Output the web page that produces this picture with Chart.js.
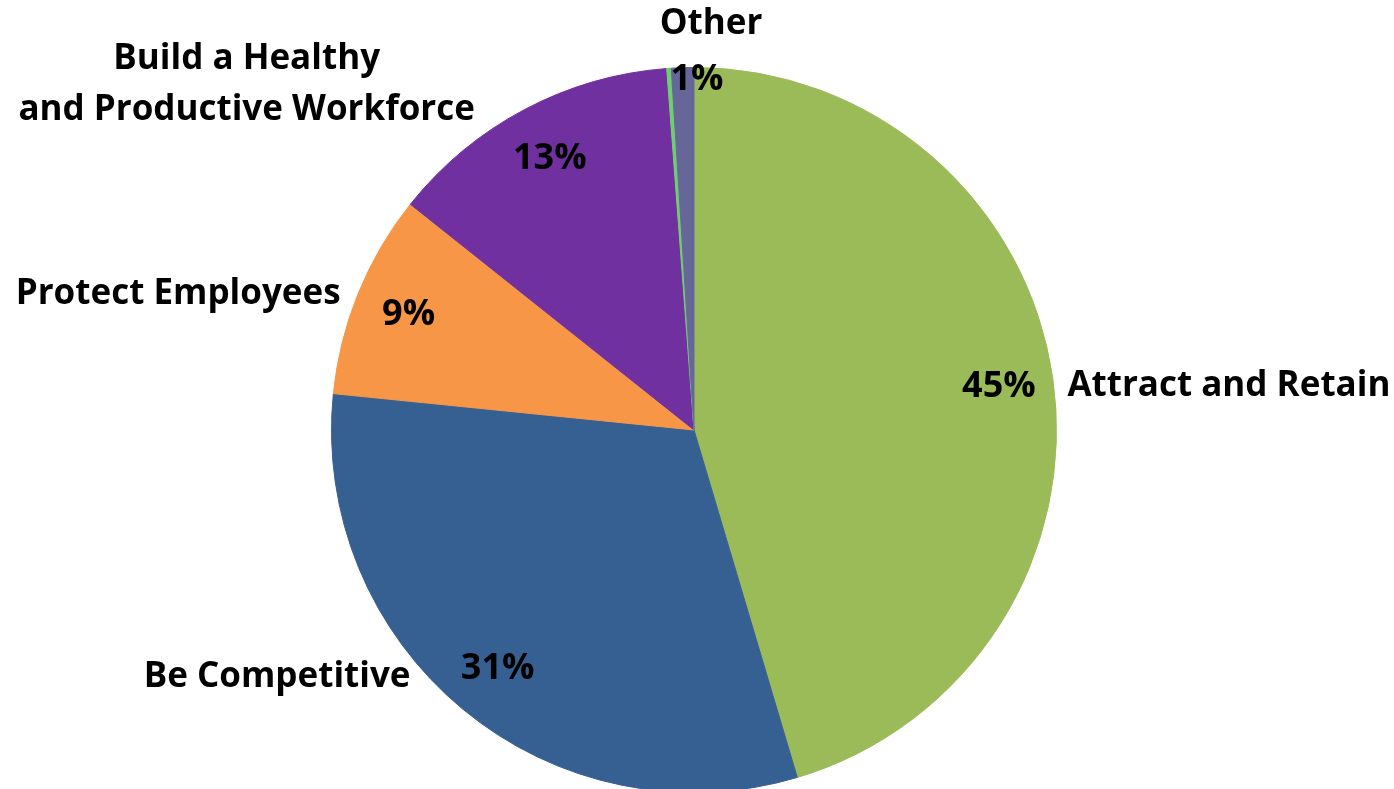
<!DOCTYPE html>
<html>
<head>
<meta charset="utf-8">
<title>Pie</title>
<script src="https://cdn.jsdelivr.net/npm/chart.js@4.4.1/dist/chart.umd.min.js"></script>
<style>
  html, body { margin: 0; padding: 0; background: #fff; overflow: hidden; }
  #wrap { position: absolute; left: 0; top: 0; width: 1394px; height: 800px; }
</style>
</head>
<body>
<div id="wrap"><canvas id="pie"></canvas></div>
<script>
"use strict";

// Slices, clockwise from 12 o'clock (percent of total).
const CATEGORIES = [
  "Attract and Retain",
  "Be Competitive",
  "Protect Employees",
  "Build a Healthy\nand Productive Workforce",
  "",
  "Other",
];
const SHARES = [45.4, 31.2, 9.1, 13.1, 0.2, 1.0];
const COLORS = ["#9bbb59", "#376092", "#f79646", "#7030a0", "#6fcf6f", "#666699"];

// Where the text sits, in units of the pie radius from its centre.
const NAME_SPOTS = [
  { dx: 1.030, dy: -0.124, align: "left" },
  { dx: -0.782, dy: 0.678, align: "right" },
  { dx: -0.975, dy: -0.377, align: "right" },
  { dx: -1.234, dy: -0.956, align: "center" },
  null,
  { dx: 0.047, dy: -1.124, align: "center" },
];
const PCT_RADIUS = 0.85;
const PCT_OVERRIDE = { 5: { dx: 0.008, dy: -0.97 } };

const FONT = "'Open Sans', Lato, sans-serif";

const pieLabels = {
  id: "pieLabels",
  afterDatasetsDraw(chart) {
    const ctx = chart.ctx;
    const arcs = chart.getDatasetMeta(0).data;
    ctx.save();
    ctx.fillStyle = "#000";
    ctx.textBaseline = "middle";
    arcs.forEach((arc, i) => {
      const { x, y, startAngle, endAngle, outerRadius: r } = arc.getProps(
        ["x", "y", "startAngle", "endAngle", "outerRadius"], true);
      const pct = Math.round(SHARES[i]);
      if (pct >= 1) {
        let px, py;
        if (PCT_OVERRIDE[i]) {
          px = x + PCT_OVERRIDE[i].dx * r;
          py = y + PCT_OVERRIDE[i].dy * r;
        } else {
          const mid = (startAngle + endAngle) / 2;
          px = x + Math.cos(mid) * r * PCT_RADIUS;
          py = y + Math.sin(mid) * r * PCT_RADIUS;
        }
        ctx.font = `bold 36px ${FONT}`;
        ctx.textAlign = "center";
        ctx.fillText(pct + "%", px, py + 1);
      }
      const spot = NAME_SPOTS[i];
      if (spot && CATEGORIES[i]) {
        ctx.font = `bold 35px ${FONT}`;
        ctx.textAlign = spot.align;
        const lines = CATEGORIES[i].split("\n");
        const lh = 51;
        const y0 = y + spot.dy * r - (lines.length - 1) * lh / 2;
        lines.forEach((ln, k) => ctx.fillText(ln, x + spot.dx * r, y0 + k * lh + 1));
      }
    });
    ctx.restore();
  },
};

new Chart(document.getElementById("pie"), {
  type: "pie",
  data: {
    labels: CATEGORIES,
    datasets: [{
      data: SHARES,
      backgroundColor: COLORS,
      borderColor: COLORS,
      borderWidth: 1,
    }],
  },
  options: {
    responsive: true,
    maintainAspectRatio: false,
    animation: false,
    layout: { padding: { top: 67, bottom: 7, left: 331, right: 337 } },
    plugins: { legend: { display: false }, tooltip: { enabled: false } },
  },
  plugins: [pieLabels],
});
</script>
</body>
</html>
